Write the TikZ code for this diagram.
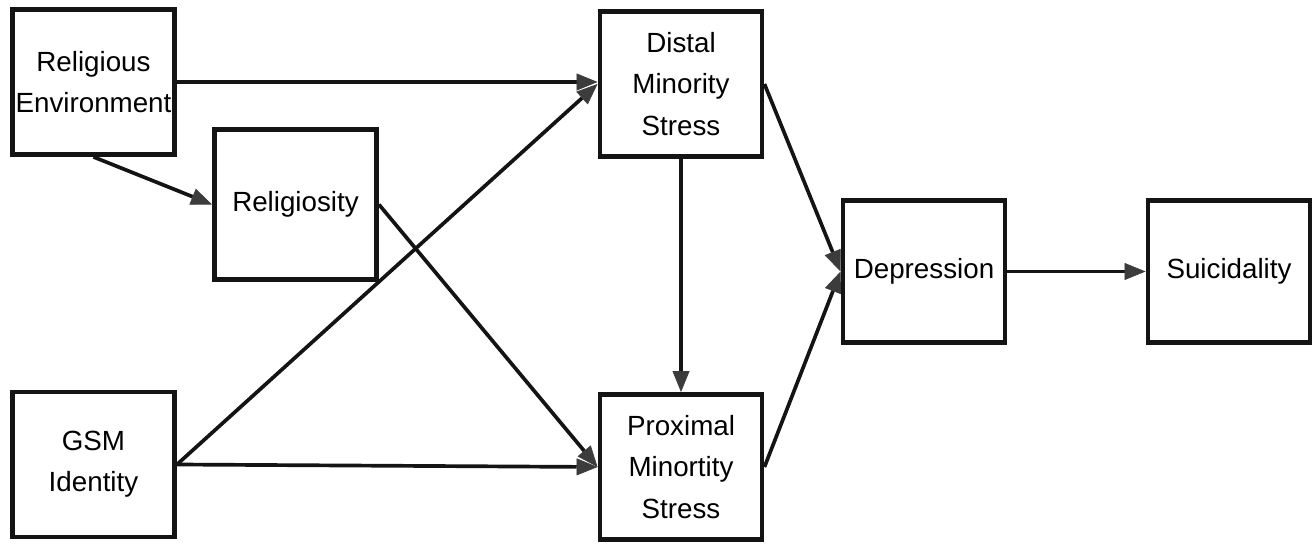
\documentclass[tikz,border=0pt]{standalone}
\usepackage{fontspec}
\setmainfont{Liberation Sans}
\usepackage{tikz}
\usetikzlibrary{arrows.meta}
\definecolor{primary}{RGB}{20, 20, 20}
\definecolor{tipgray}{RGB}{60, 60, 60}

\tikzset{
  varbox/.style={draw=primary,line width=2.8pt,fill=white,align=center,
    minimum width=3.24cm,minimum height=2.9cm,inner sep=2pt,
    font=\fontsize{15.8}{23.5}\selectfont},
  pathline/.style={primary,line width=2.1pt,
    -{Triangle[length=0.42cm,width=0.34cm,color=tipgray,fill=tipgray,line width=0.4pt]}}
}

\begin{document}
\begin{tikzpicture}[x=0.02cm,y=-0.02cm]
\useasboundingbox (0,0) rectangle (1314,546);
\node[varbox] (env) at (93.5,82) {Religious\\Environment};
\node[varbox,minimum height=3.0cm] (relig) at (295.5,204.5) {Religiosity};
\node[varbox] (gsm) at (93.5,464.5) {GSM\\Identity};
\node[varbox] (distal) at (681,84) {Distal\\Minority\\Stress};
\node[varbox] (proximal) at (681,467) {Proximal\\Minortity\\Stress};
\node[varbox,minimum height=2.84cm] (dep) at (924,271.5) {Depression};
\node[varbox,minimum height=2.84cm] (suic) at (1229,271.5) {Suicidality};
\draw[pathline] (env.east) -- (env.east -| distal.west);
\draw[pathline] (env.south) -- (relig.west);
\draw[pathline] (relig.east) -- (proximal.west);
\draw[pathline] (gsm.east) -- (distal.west);
\draw[pathline] (gsm.east) -- (proximal.west);
\draw[pathline] (distal.south) -- (proximal.north);
\draw[pathline] (distal.east) -- (dep.west);
\draw[pathline] (proximal.east) -- (dep.west);
\draw[pathline] (dep.east) -- (suic.west);
\end{tikzpicture}
\end{document}
